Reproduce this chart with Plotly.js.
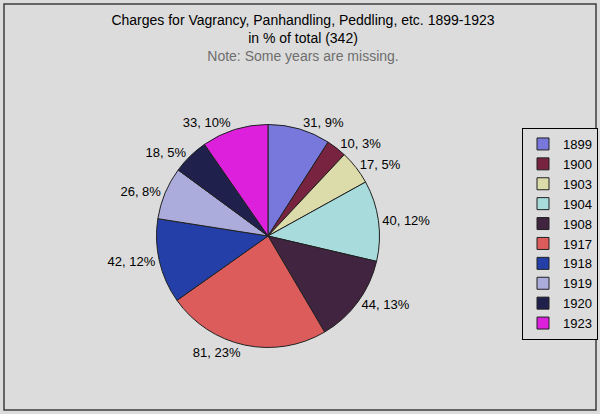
<!DOCTYPE html>
<html>
<head>
<meta charset="utf-8">
<script src="https://cdn.plot.ly/plotly-3.0.1.min.js"></script>
<style>html,body{margin:0;padding:0;background:#dcdcdc;}#chart{width:600px;height:414px;}</style>
</head>
<body>
<div id="chart"></div>
<script>
const years = ["1899","1900","1903","1904","1908","1917","1918","1919","1920","1923"];
const charges = [31, 10, 17, 40, 44, 81, 42, 26, 18, 33];
const pctLabels = ["9%","3%","5%","12%","13%","23%","12%","8%","5%","10%"];
const sliceColors = ["#7878dc","#782440","#dcdcaa","#a8dcdc","#402440","#dc5c5c","#2440a8","#acacdc","#20204c","#dc20dc"];

const W = 600, H = 414;
const cx = 268, cy = 236, r = 111.5;

const data = [{
  type: "pie",
  labels: years,
  values: charges,
  text: pctLabels,
  texttemplate: "%{value}, %{text}",
  textposition: "outside",
  textfont: {family: "Liberation Sans, Arial, sans-serif", size: 13, color: "#000"},
  hoverinfo: "label+value+text",
  sort: false,
  direction: "clockwise",
  rotation: 0,
  marker: {colors: sliceColors, line: {color: "#202020", width: 1}},
  domain: {x: [(cx - r) / W, (cx + r) / W], y: [1 - (cy + r) / H, 1 - (cy - r) / H]},
  automargin: false
}];

const layout = {
  width: W, height: H,
  margin: {l: 0, r: 0, t: 0, b: 0},
  paper_bgcolor: "#dcdcdc",
  plot_bgcolor: "#dcdcdc",
  font: {family: "Liberation Sans, Arial, sans-serif", color: "#000"},
  title: {
    text: "Charges for Vagrancy, Panhandling, Peddling, etc. 1899-1923<br>in % of total (342)<br><span style='color:#6e6e6e'>Note: Some years are missing.</span>",
    x: 0.505, xanchor: "center",
    y: 1 - 25 / H, yanchor: "top",
    font: {family: "Liberation Sans, Arial, sans-serif", size: 14, color: "#000"}
  },
  showlegend: true,
  legend: {
    x: 522 / W, xanchor: "left",
    y: 1 - 128 / H, yanchor: "top",
    bgcolor: "#dcdcdc",
    bordercolor: "#000",
    borderwidth: 1,
    font: {family: "Liberation Sans, Arial, sans-serif", size: 13, color: "#000"},
    tracegroupgap: 0,
    itemwidth: 30
  },
  shapes: [{
    type: "rect", xref: "paper", yref: "paper",
    x0: 4 / W, x1: 596 / W, y0: 1 - 410 / H, y1: 1 - 4 / H,
    line: {color: "#3c3c3c", width: 1.5}, fillcolor: "rgba(0,0,0,0)"
  }]
};

Plotly.newPlot("chart", data, layout, {displayModeBar: false, staticPlot: true});
</script>
</body>
</html>
